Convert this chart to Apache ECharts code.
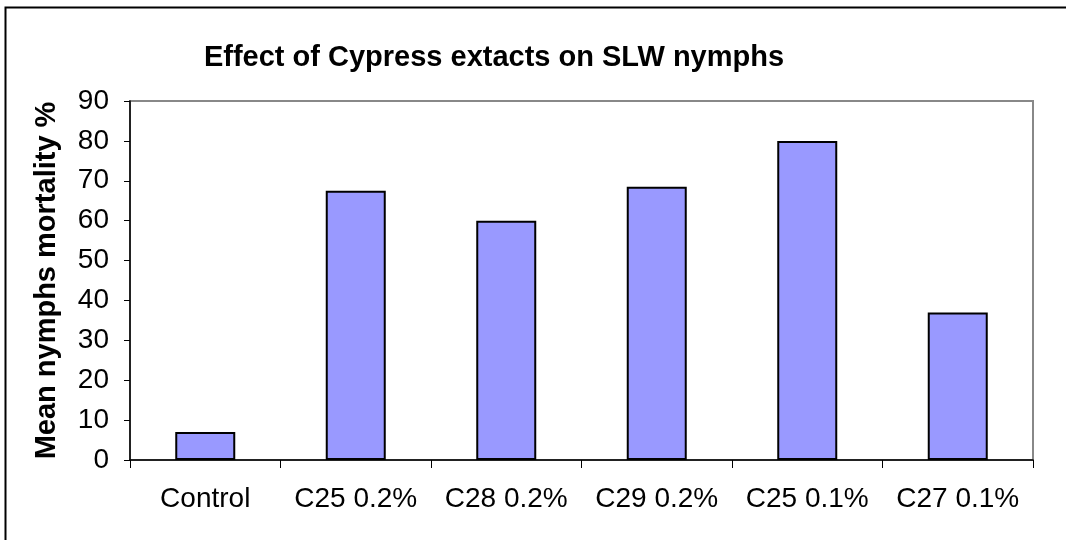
<!DOCTYPE html>
<html>
<head>
<meta charset="utf-8">
<script src="https://cdn.jsdelivr.net/npm/echarts@6/dist/echarts.min.js"></script>
<style>
  html, body { margin: 0; padding: 0; background: #fff; }
  #chart { width: 1066px; height: 540px; }
</style>
</head>
<body>
<div id="chart"></div>
<script>
var categories = ['Control', 'C25 0.2%', 'C28 0.2%', 'C29 0.2%', 'C25 0.1%', 'C27 0.1%'];
var mortality = [7, 67.5, 60, 68.5, 80, 37];
var yTicks = [0, 10, 20, 30, 40, 50, 60, 70, 80, 90];

var myChart = echarts.init(document.getElementById('chart'));

var option = {
    animation: false,
    backgroundColor: '#fff',
    title: {
        text: 'Effect of Cypress extacts on SLW nymphs',
        left: 489,
        textAlign: 'center',
        top: 38,
        textStyle: {
            fontFamily: 'Liberation Sans, Arial',
            fontWeight: 'bold',
            fontSize: 29,
            color: '#000'
        }
    },
    graphic: [{
        type: 'rect',
        shape: { x: 5.5, y: 7.5, width: 1100, height: 600 },
        style: { fill: 'none', stroke: '#000', lineWidth: 2 },
        silent: true
    }],
    grid: {
        left: 130,
        top: 101,
        right: 33,
        bottom: 80,
        show: true,
        borderColor: '#888',
        borderWidth: 2
    },
    xAxis: {
        type: 'category',
        data: categories,
        boundaryGap: true,
        axisLine: { lineStyle: { color: '#000', width: 1.5 } },
        axisTick: { show: true, interval: 0, alignWithLabel: false, length: 8, lineStyle: { color: '#000' } },
        axisLabel: {
            interval: 0,
            margin: 25,
            fontFamily: 'Liberation Sans, Arial',
            fontSize: 28,
            color: '#000'
        }
    },
    yAxis: {
        type: 'value',
        min: 0,
        max: 90,
        interval: 10,
        name: 'Mean nymphs mortality %',
        nameLocation: 'middle',
        nameGap: 69,
        nameTextStyle: {
            fontFamily: 'Liberation Sans, Arial',
            fontWeight: 'bold',
            fontSize: 29,
            color: '#000'
        },
        splitLine: { show: false },
        axisLine: { show: true, lineStyle: { color: '#000', width: 1.5 } },
        axisTick: { show: true, length: 6, lineStyle: { color: '#000' } },
        axisLabel: {
            margin: 21,
            fontFamily: 'Liberation Sans, Arial',
            fontSize: 28,
            color: '#000',
            formatter: function (v) { return yTicks.indexOf(v) >= 0 ? String(v) : ''; }
        }
    },
    series: [{
        type: 'bar',
        data: mortality,
        barWidth: 60,
        itemStyle: {
            color: '#9999ff',
            borderColor: '#000',
            borderWidth: 2
        }
    }]
};

myChart.setOption(option);
</script>
</body>
</html>
